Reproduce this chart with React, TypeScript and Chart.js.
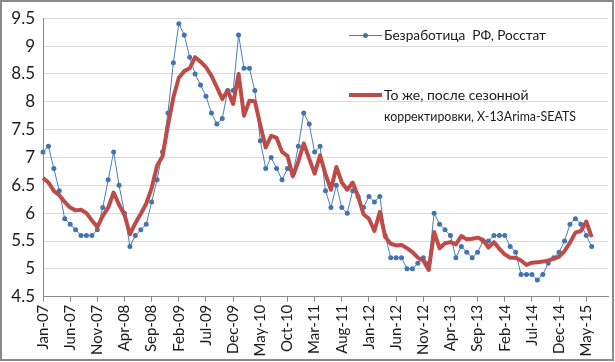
import React, { useEffect, useRef } from "react";
import { Chart, registerables } from "chart.js";

Chart.register(...registerables);

const months = ["Jan", "Feb", "Mar", "Apr", "May", "Jun", "Jul", "Aug", "Sep", "Oct", "Nov", "Dec"];
const years = ["07", "08", "09", "10", "11", "12", "13", "14", "15"];
const categories: string[] = [];
for (const y of years) for (const m of months) categories.push(`${m}-${y}`);
// axis runs from Jan-07 to Sep-15
const axisLabels = categories.slice(0, 105);

const unemployment: (number | null)[] = [
  // 2007
  7.1, 7.2, 6.8, 6.4, 5.9, 5.8, 5.7, 5.6, 5.6, 5.6, 5.7, 6.1,
  // 2008
  6.6, 7.1, 6.5, 6.0, 5.4, 5.6, 5.7, 5.8, 6.2, 6.6, 7.1, 7.8,
  // 2009
  8.7, 9.4, 9.2, 8.8, 8.5, 8.3, 8.1, 7.8, 7.6, 7.7, 8.2, 8.2,
  // 2010
  9.2, 8.6, 8.6, 8.2, 7.3, 6.8, 7.0, 6.8, 6.6, 6.8, 6.7, 7.2,
  // 2011
  7.8, 7.6, 7.1, 7.2, 6.4, 6.1, 6.5, 6.1, 6.0, 6.4, 6.3, 6.1,
  // 2012
  6.3, 6.2, 6.3, 5.6, 5.2, 5.2, 5.2, 5.0, 5.0, 5.1, 5.2, 5.1,
  // 2013
  6.0, 5.8, 5.7, 5.6, 5.2, 5.4, 5.3, 5.2, 5.3, 5.5, 5.5, 5.6,
  // 2014
  5.6, 5.6, 5.4, 5.3, 4.9, 4.9, 4.9, 4.8, 4.9, 5.1, 5.2, 5.3,
  // 2015
  5.5, 5.8, 5.9, 5.8, 5.6, 5.4,
];

const seasonallyAdjusted: (number | null)[] = [
  // 2007
  6.63, 6.55, 6.40, 6.32, 6.20, 6.10, 6.05, 6.06, 6.00, 5.87, 5.75, 5.95,
  // 2008
  6.10, 6.37, 6.15, 5.97, 5.62, 5.82, 5.99, 6.17, 6.45, 6.85, 7.02, 7.58,
  // 2009
  8.08, 8.43, 8.55, 8.60, 8.80, 8.72, 8.62, 8.47, 8.26, 8.05, 8.20, 7.96,
  // 2010
  8.50, 7.75, 8.02, 8.01, 7.58, 7.18, 7.39, 7.35, 7.10, 7.03, 6.66, 6.93,
  // 2011
  7.25, 6.98, 6.71, 7.04, 6.70, 6.42, 6.83, 6.55, 6.42, 6.55, 6.30, 5.98,
  // 2012
  5.90, 5.68, 6.02, 5.57, 5.45, 5.42, 5.43, 5.37, 5.30, 5.20, 5.15, 4.98,
  // 2013
  5.66, 5.37, 5.46, 5.48, 5.44, 5.59, 5.53, 5.54, 5.56, 5.52, 5.38, 5.48,
  // 2014
  5.36, 5.26, 5.20, 5.20, 5.15, 5.07, 5.11, 5.12, 5.13, 5.15, 5.18, 5.22,
  // 2015
  5.32, 5.47, 5.65, 5.68, 5.85, 5.57,
];

const yTicksMin = 4.5;
const yTicksMax = 9.5;
const yTickStep = 0.5;
const labelEvery = 5;

const legendBlue = "Безработица  РФ, Росстат";
const legendRedLines = ["То же, после сезонной", "корректировки, X-13Arima-SEATS"];

const BLUE = "#4a7ebb";
const BLUE_PT = "#4174b0";
const RED = "#be4b48";
const FONT = "Lato, 'Open Sans', sans-serif";

function fitText(ctx: CanvasRenderingContext2D, text: string, x: number, y: number, maxW: number) {
  const w = ctx.measureText(text).width;
  const s = w > maxW ? maxW / w : 1;
  ctx.save();
  ctx.translate(x, y);
  ctx.scale(s, 1);
  ctx.fillText(text, 0, 0);
  ctx.restore();
}

export default function App() {
  const ref = useRef<HTMLCanvasElement | null>(null);

  useEffect(() => {
    if (!ref.current) return;
    const extras = {
      id: "extras",
      afterDraw(chart: any) {
        const ctx = chart.ctx as CanvasRenderingContext2D;
        ctx.save();
        // outer frame
        ctx.strokeStyle = "#8a8a8a";
        ctx.lineWidth = 2;
        ctx.strokeRect(1, 1, 612, 359);
        // legend
        const lx0 = 349;
        const lx1 = 382;
        ctx.lineCap = "butt";
        ctx.strokeStyle = BLUE;
        ctx.lineWidth = 1;
        ctx.beginPath();
        ctx.moveTo(lx0, 35.5);
        ctx.lineTo(lx1, 35.5);
        ctx.stroke();
        ctx.fillStyle = BLUE_PT;
        ctx.beginPath();
        ctx.arc((lx0 + lx1) / 2, 35.5, 2.5, 0, Math.PI * 2);
        ctx.fill();
        ctx.strokeStyle = RED;
        ctx.lineWidth = 4;
        ctx.beginPath();
        ctx.moveTo(lx0, 95);
        ctx.lineTo(lx1, 95);
        ctx.stroke();
        ctx.fillStyle = "#1a1a1a";
        ctx.font = `14px ${FONT}`;
        ctx.textBaseline = "middle";
        ctx.textAlign = "left";
        fitText(ctx, legendBlue, 384, 35, 162);
        fitText(ctx, legendRedLines[0], 384, 95, 146);
        fitText(ctx, legendRedLines[1], 384, 116, 192);
        ctx.restore();
      },
    };

    const chart = new Chart(ref.current, {
      type: "line",
      data: {
        labels: axisLabels,
        datasets: [
          {
            label: legendRedLines.join(" "),
            data: seasonallyAdjusted,
            borderColor: RED,
            backgroundColor: RED,
            borderWidth: 4,
            pointRadius: 0,
            tension: 0,
            order: 0,
            borderJoinStyle: "round",
          },
          {
            label: legendBlue,
            data: unemployment,
            borderColor: BLUE,
            backgroundColor: BLUE_PT,
            borderWidth: 1,
            pointRadius: 2.5,
            pointBorderWidth: 0,
            pointBackgroundColor: BLUE_PT,
            tension: 0,
            order: 1,
          },
        ],
      },
      options: {
        animation: false,
        responsive: false,
        events: [],
        layout: { padding: { left: 0, right: 7, top: 17.5, bottom: 0 } },
        plugins: { legend: { display: false }, tooltip: { enabled: false } },
        scales: {
          x: {
            type: "category",
            offset: false,
            afterFit(scale: any) {
              scale.height = 65.3;
            },
            grid: {
              display: true,
              drawOnChartArea: false,
              drawTicks: true,
              tickLength: 5,
              color: "#8a8a8a",
            },
            border: { display: true, color: "#8a8a8a", width: 1 },
            ticks: {
              autoSkip: false,
              maxRotation: 90,
              minRotation: 90,
              padding: 3,
              color: "#1a1a1a",
              font: { family: FONT, size: 15 },
              callback(_v: any, index: number) {
                return index % labelEvery === 0 ? axisLabels[index] : null;
              },
            },
          },
          y: {
            min: yTicksMin,
            max: yTicksMax,
            afterFit(scale: any) {
              scale.width = 43;
            },
            grid: { color: "#d9d9d9", drawTicks: false },
            border: { display: true, color: "#8a8a8a", width: 1 },
            ticks: {
              stepSize: yTickStep,
              padding: 8,
              color: "#1a1a1a",
              font: { family: FONT, size: 17 },
              callback(v: any) {
                return String(Math.round(Number(v) * 10) / 10);
              },
            },
          },
        },
      },
      plugins: [extras],
    });
    return () => chart.destroy();
  }, []);

  return (
    <div style={{ position: "absolute", left: 0, top: 0, width: 615, height: 362, background: "#fff" }}>
      <canvas ref={ref} width={615} height={362} style={{ display: "block", width: 615, height: 362 }} />
    </div>
  );
}
